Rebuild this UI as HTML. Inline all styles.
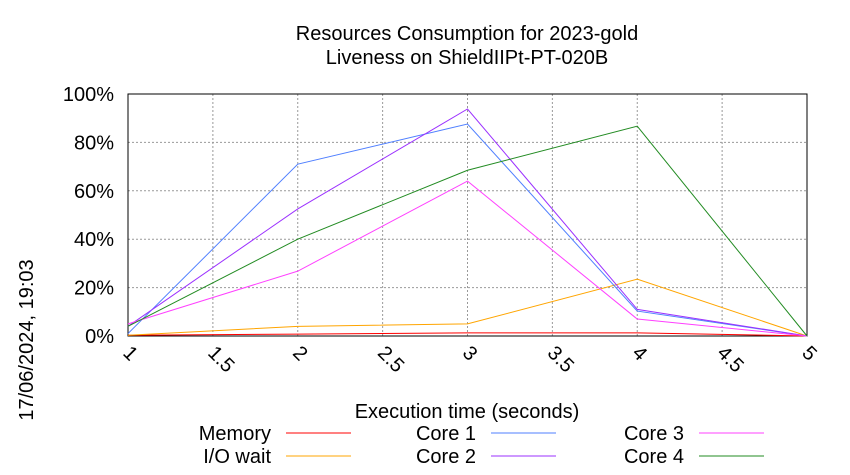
<!DOCTYPE html>
<html><head><meta charset="utf-8"><style>
body{margin:0;background:#fff;}
svg{display:block;font-family:"Liberation Sans",sans-serif;}
</style></head><body>
<svg id="chart" width="850" height="475" viewBox="0 0 850 475">
<rect width="850" height="475" fill="#fff"/>
<text x="467" y="40" font-size="20" text-anchor="middle">Resources Consumption for 2023-gold</text>
<text x="467" y="64" font-size="20" text-anchor="middle">Liveness on ShieldIIPt-PT-020B</text>
<text transform="translate(33,340) rotate(-90)" font-size="20" text-anchor="middle">17/06/2024, 19:03</text>
<text x="467" y="418" font-size="20" text-anchor="middle">Execution time (seconds)</text>
<g id="grid"></g><g id="series"></g><g id="legend"></g>
</svg>
<script>
const xTicks=[1,1.5,2,2.5,3,3.5,4,4.5,5];
const xTickLabels=["1","1.5","2","2.5","3","3.5","4","4.5","5"];
const yTicks=[0,20,40,60,80,100];
const yTickLabels=["0%","20%","40%","60%","80%","100%"];
const times=[1,2,3,4,5];
const seriesNames=["Memory","I/O wait","Core 1","Core 2","Core 3","Core 4"];
const seriesColors=["#ff0000","#ffa500","#4f7fff","#9b30ff","#ff40ff","#228b22"];
const memory=[0.3,0.8,1.3,1.3,0];
const ioWait=[0.3,4,5,23.5,0];
const core1=[1,71,87.6,10.3,0];
const core2=[4,52.5,93.8,11,0];
const core3=[5,26.8,64,7,0];
const core4=[4,40,68.5,86.7,0];
const allSeries=[memory,ioWait,core1,core2,core3,core4];
const NS="http://www.w3.org/2000/svg";
const L=128,R=807,T=94,B=336;
const xs=v=>L+(v-1)/4*(R-L), ys=v=>B-v/100*(B-T);
function mk(tag,attrs,parent){const e=document.createElementNS(NS,tag);for(const k in attrs)e.setAttribute(k,attrs[k]);parent.appendChild(e);return e;}
const grid=document.getElementById('grid');
yTicks.forEach((t,i)=>{
 const y=ys(t);
 const g=mk('line',{x1:L,x2:R,y1:y,y2:y,stroke:'#999','stroke-dasharray':'2,2','stroke-width':1},grid);
 
 
 const tx=mk('text',{x:114,y:y+7,'font-size':20,'text-anchor':'end'},grid);
 tx.textContent=yTickLabels[i];
 
 
});
xTicks.forEach((t,i)=>{
 const x=xs(t);
 const g=mk('line',{x1:x,x2:x,y1:T,y2:B,stroke:'#999','stroke-dasharray':'2,2','stroke-width':1},grid);
 
 
 const tx=mk('text',{transform:`translate(${x-6},${B+18}) rotate(45)`,'font-size':20},grid);
 tx.textContent=xTickLabels[i];
 
 
});
const frame=mk('rect',{x:L,y:T,width:R-L,height:B-T,fill:'none',stroke:'#000','stroke-width':1},grid);


const sg=document.getElementById('series');
allSeries.forEach((s,i)=>{
 const p=mk('polyline',{points:s.map((v,j)=>xs(times[j])+','+ys(v)).join(' '),fill:'none',stroke:seriesColors[i],'stroke-width':1},sg);
 
 
});
const lg=document.getElementById('legend');
const colX=[271,476,684], rowY=[440,463];
seriesNames.forEach((n,i)=>{
 const c=Math.floor(i/2), r=i%2;
 const tx=mk('text',{x:colX[c],y:rowY[r],'font-size':20,'text-anchor':'end'},lg);
 tx.textContent=n;
 
 
 const ln=mk('line',{x1:colX[c]+15,x2:colX[c]+80,y1:rowY[r]-7,y2:rowY[r]-7,stroke:seriesColors[i],'stroke-width':1},lg);
 
 
});
</script>
</body></html>
